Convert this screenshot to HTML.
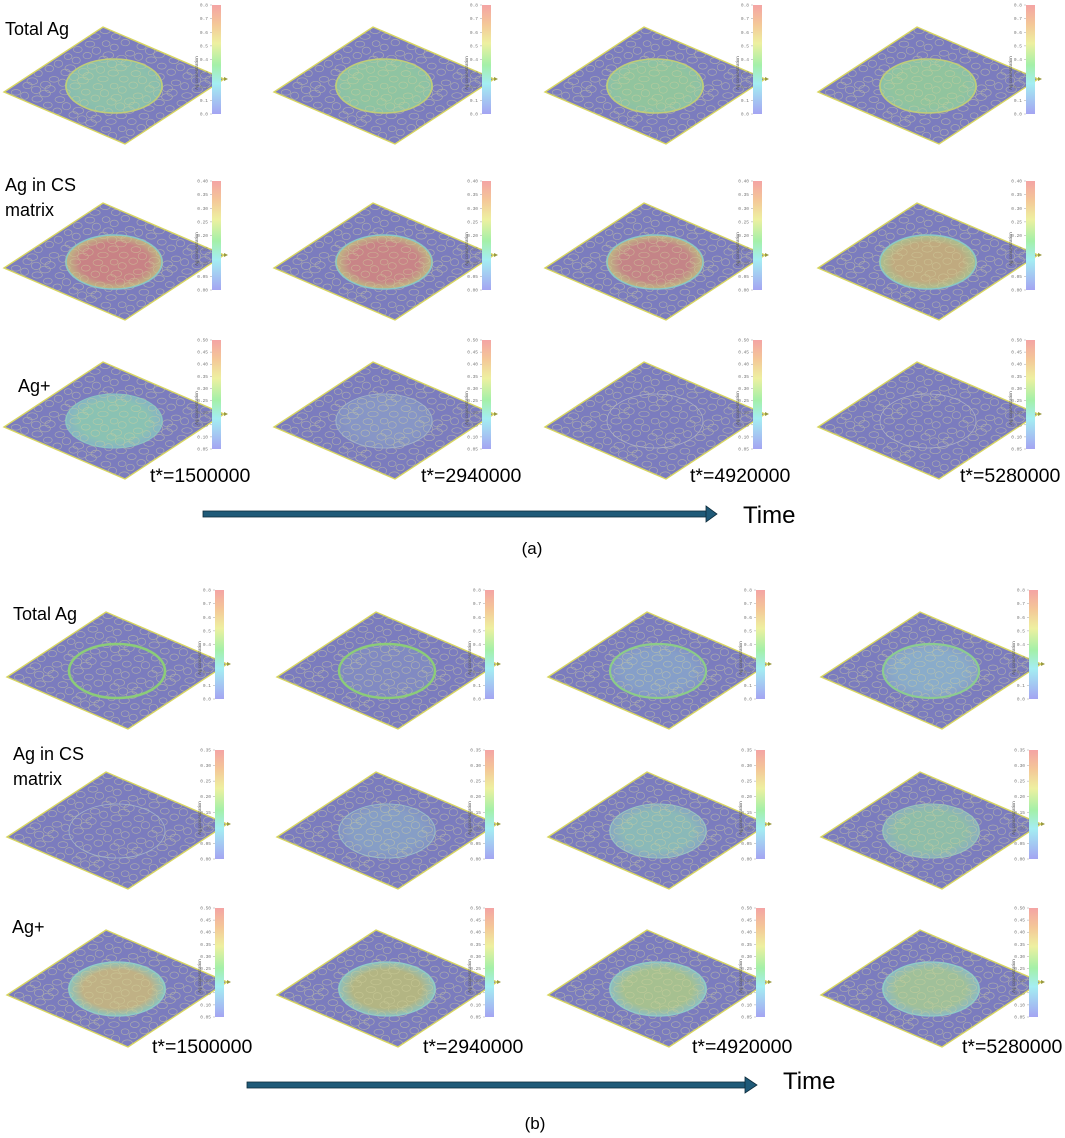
<!DOCTYPE html>
<html><head><meta charset="utf-8">
<style>
html,body{margin:0;padding:0;background:#fff;}
svg{display:block;font-family:"Liberation Sans",sans-serif;}
</style></head>
<body>
<svg id="fig" width="1065" height="1138" viewBox="0 0 1065 1138" xmlns="http://www.w3.org/2000/svg">
<defs>
  <linearGradient id="cbar" x1="0" y1="1" x2="0" y2="0">
    <stop offset="0" stop-color="#a4a4f2"/>
    <stop offset="0.28" stop-color="#a4eef2"/>
    <stop offset="0.45" stop-color="#a4f0a8"/>
    <stop offset="0.65" stop-color="#eef0a0"/>
    <stop offset="0.82" stop-color="#f4c898"/>
    <stop offset="1" stop-color="#f4a4a4"/>
  </linearGradient>
</defs>
<g id="panels"></g>
<g id="labels" font-size="18" fill="#000">
  <text x="5" y="35">Total Ag</text>
  <text x="5" y="191">Ag in CS</text>
  <text x="5" y="216">matrix</text>
  <text x="18" y="392">Ag+</text>
  <text x="13" y="620">Total Ag</text>
  <text x="13" y="760">Ag in CS</text>
  <text x="13" y="785">matrix</text>
  <text x="12" y="933">Ag+</text>
</g>
<g id="timelabels" font-size="19.5" fill="#000"></g>
<g>
  <rect x="203" y="511" width="505" height="6" fill="#1f5a78" stroke="#0d2c3c" stroke-width="0.8"/>
  <polygon points="706,506 717,514 706,522" fill="#1f5a78" stroke="#0d2c3c" stroke-width="0.8"/>
</g>
<text x="743" y="523" font-size="24">Time</text>
<text x="532" y="554" font-size="17" text-anchor="middle">(a)</text>
<g>
  <rect x="247" y="1082" width="500" height="6" fill="#1f5a78" stroke="#0d2c3c" stroke-width="0.8"/>
  <polygon points="745,1077 757,1085 745,1093" fill="#1f5a78" stroke="#0d2c3c" stroke-width="0.8"/>
</g>
<text x="783" y="1089" font-size="24">Time</text>
<text x="535" y="1129" font-size="17" text-anchor="middle">(b)</text>
</svg>
<script>
const colX = [0, 270, 541, 814];
const rowYA = [0, 176, 335];
const rowYB = [585, 745, 903];
const timeLabels = ["t*=1500000", "t*=2940000", "t*=4920000", "t*=5280000"];
const cbTicksTotal = ["0.0","0.1","0.2","0.3","0.4","0.5","0.6","0.7","0.8"];
const cbTicksCSa = ["0.00","0.05","0.10","0.15","0.20","0.25","0.30","0.35","0.40"];
const cbTicksCSb = ["0.00","0.05","0.10","0.15","0.20","0.25","0.30","0.35"];
const cbTicksAgp = ["0.05","0.10","0.15","0.20","0.25","0.30","0.35","0.40","0.45","0.50"];
const disksA = [
  [["#8ec4aa","#88c0b0","#c0cc78",1.6,0.95],["#90c8a0","#8cc4a8","#c0cc78",1.6,0.95],["#92c89c","#8cc4a8","#c0cc78",1.6,0.95],["#92c89c","#8cc4a8","#c0cc78",1.6,0.95]],
  [["#cc8282","#c0c080","#88c8c8",1.4,0.95],["#cc8484","#c0c080","#88c8c8",1.4,0.95],["#c88484","#c0c080","#88c8c8",1.4,0.95],["#c4ac7c","#a8c690","#88c8c8",1.4,0.95]],
  [["#8ccab2","#86b8c6","#8cc8c0",0.8,0.9],["#8a9cc8","#8494c4","#a4b4c8",0.8,0.8],[null,null,"#b0b4c4",0.7,0],[null,null,"#b0b4c4",0.7,0]]
];
const disksB = [
  [[null,null,"#8ccc78",2.6,0],["#8490c4","#8090c2","#8ccc78",2.4,0.7],["#88a8cc","#8498c8","#8ccc88",2.2,0.8],["#8cb4cc","#88a4c8","#8ccc90",2.2,0.85]],
  [[null,null,"#a4b4c8",0.8,0],["#88a4c8","#8496c4","#9cc0c8",0.8,0.85],["#8cc0b8","#88aac4","#9cc8c0",0.8,0.9],["#90c4a8","#8cb4c0","#9cc8b8",0.8,0.9]],
  [["#c4b482","#88c8c0","#90ccc8",1.2,0.95],["#b6b880","#8cc4c0","#90ccc8",1.2,0.95],["#a8c48e","#8cc0c4","#90ccc8",1.2,0.95],["#a2c498","#8cbcc4","#90ccc8",1.2,0.95]]
];
const jit = [0.3,-0.2,0.1,0.4,-0.35,0.0,0.25,-0.1,0.35,-0.3,0.15,-0.25,0.05,0.3,-0.15,0.2];
const NS = "http://www.w3.org/2000/svg";
function mk(tag, attrs, parent){const e=document.createElementNS(NS,tag);for(const k in attrs)e.setAttribute(k,attrs[k]);parent.appendChild(e);return e;}
let cellPath = "";
const N = 11;
for(let i=0;i<N;i++){for(let j=0;j<N;j++){
  const k=(i*7+j*3)%16;
  const u=(i+0.5+jit[k]*0.6)/N, v=(j+0.5+jit[(k+5)%16]*0.6)/N;
  const x=4+121*u+99*v, y=92+52*u-65*v;
  const rx=4.6+jit[(k+2)%16]*2, ry=3.2+jit[(k+9)%16]*1.2;
  cellPath += `M${(x-rx).toFixed(1)},${y.toFixed(1)}a${rx.toFixed(1)},${ry.toFixed(1)} 0 1,0 ${(2*rx).toFixed(1)},0a${rx.toFixed(1)},${ry.toFixed(1)} 0 1,0 ${(-2*rx).toFixed(1)},0`;
}}
const panels = document.getElementById('panels');
let gid = 0;
function panel(dx, dy, disk, ticks, name){
  const g = mk('g',{transform:`translate(${dx},${dy})`},panels);
  
  
  const pts = "4,92 103,27 224,79 125,144";
  const cid = 'clip'+(gid++);
  const cp = mk('clipPath',{id:cid},g);
  mk('polygon',{points:pts},cp);
  const surf = mk('polygon',{points:pts,fill:'#7b7cbe'},g);
  
  
  const inner = mk('g',{'clip-path':`url(#${cid})`},g);
  if(disk[0]){
    const rg = 'rg'+gid;
    const grad = mk('radialGradient',{id:rg},g);
    mk('stop',{offset:'0','stop-color':disk[0]},grad);
    mk('stop',{offset:'0.7','stop-color':disk[0]},grad);
    mk('stop',{offset:'1','stop-color':disk[1]},grad);
    const d = mk('ellipse',{cx:114,cy:86,rx:49,ry:27.5,fill:`url(#${rg})`,opacity:disk[4]},inner);
    
    
  }
  mk('path',{d:cellPath,fill:'none',stroke:'#cfcf9c','stroke-width':0.7,opacity:0.55},inner);
  mk('ellipse',{cx:114,cy:86,rx:48,ry:27,fill:'none',stroke:disk[2],'stroke-width':disk[3]},inner);
  mk('polygon',{points:pts,fill:'none',stroke:'#d8d660','stroke-width':1.4},g);
  const cb = mk('g',{},g);
  
  
  mk('rect',{x:212,y:5,width:9,height:109,fill:'url(#cbar)'},cb);
  const n = ticks.length;
  ticks.forEach((t,i)=>{
    const y = 114 - i*(109/(n-1));
    const tx = mk('text',{x:208,y:y+1.5,'font-size':4.5,fill:'#777','text-anchor':'end','font-family':'Liberation Mono, monospace'},cb);
    tx.textContent = t;
    mk('line',{x1:210,x2:212,y1:y,y2:y,stroke:'#888','stroke-width':0.4},cb);
  });
  const at = mk('text',{x:0,y:0,'font-size':4.5,fill:'#555',transform:'translate(198,90) rotate(-90)'},cb);
  at.textContent = 'Ag concentration';
  mk('polygon',{points:'224,77 228,79 224,81',fill:'#9a9a40'},cb);
}
const rowsTicksA = [cbTicksTotal, cbTicksCSa, cbTicksAgp];
const rowsTicksB = [cbTicksTotal, cbTicksCSb, cbTicksAgp];
const rowNames = ['total-ag','cs-matrix','ag-plus'];
for(let r=0;r<3;r++) for(let c=0;c<4;c++){
  panel(colX[c], rowYA[r], disksA[r][c], rowsTicksA[r], `panel-a-${rowNames[r]}-t${c+1}`);
  panel(colX[c]+3, rowYB[r], disksB[r][c], rowsTicksB[r], `panel-b-${rowNames[r]}-t${c+1}`);
}
const tl = document.getElementById('timelabels');
const tlX = [150, 421, 690, 960];
timeLabels.forEach((t,i)=>{
  const a = mk('text',{x:tlX[i],y:482},tl);
  a.textContent = t;
  
  
  const b = mk('text',{x:tlX[i]+2,y:1053},tl);
  b.textContent = t;
  
  
});
</script>
</body></html>
